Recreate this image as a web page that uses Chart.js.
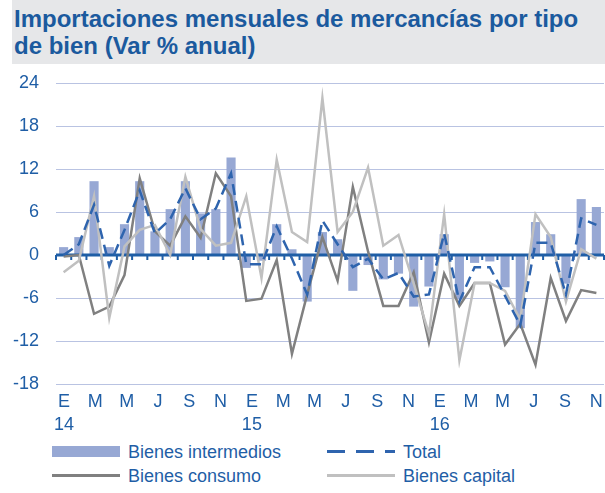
<!DOCTYPE html>
<html>
<head>
<meta charset="utf-8">
<script src="https://cdn.jsdelivr.net/npm/chart.js@4/dist/chart.umd.min.js"></script>
<style>
  body { margin: 0; width: 605px; height: 493px; background: #fff; font-family: 'Liberation Sans', Arial, sans-serif; position: relative; overflow: hidden; }
  #title { position: absolute; left: 12px; top: 0; width: 593px; height: 64px; background: #e6e7e9; color: #1b5a9e; font-weight: bold; font-size: 24px; line-height: 27px; padding: 5px 0 0 2px; box-sizing: border-box; }
  #chartWrap { position: absolute; left: 0; top: 63px; }
  .leg { position: absolute; font-size: 18px; color: #1f5ea6; line-height: 22px; }
  .sym { position: absolute; }
</style>
</head>
<body>
<div id="title">Importaciones mensuales de mercancías por tipo<br>de bien (Var % anual)</div>
<div id="chartWrap"><canvas id="myChart" width="605" height="375"></canvas></div>

<div class="sym" style="left:52px; top:446px; width:68px; height:11px; background:#97a8d4;"></div>
<div class="leg" style="left:128px; top:441px;">Bienes intermedios</div>
<div class="sym" style="left:327px; top:450px; width:68px; height:3px; background:repeating-linear-gradient(to right, #2e64ae 0 18px, transparent 18px 29px);"></div>
<div class="leg" style="left:403px; top:441px;">Total</div>
<div class="sym" style="left:52px; top:474px; width:68px; height:3px; background:#808080;"></div>
<div class="leg" style="left:128px; top:465px;">Bienes consumo</div>
<div class="sym" style="left:327px; top:474px; width:68px; height:3px; background:#c0c0c0;"></div>
<div class="leg" style="left:403px; top:465px;">Bienes capital</div>

<script>
// months (Spanish initials) and years shown under January
const months = ['E', 'F', 'M', 'A', 'M', 'J', 'J', 'A', 'S', 'O', 'N', 'D'];
const years = ['14', '15', '16'];

// Var % anual, Jan 2014 - Dec 2016
const intermedios = [1.1, 2.5, 10.3, 1.1, 4.3, 10.3, 3.3, 6.4, 10.3, 5.8, 6.4, 13.6,
                     -1.8, -0.8, 4.3, 0.8, -6.5, 3.2, 2.2, -5.0, -1.4, -3.4, -2.6, -7.2,
                     -4.4, 2.9, -6.2, -1.1, -0.9, -4.5, -10.2, 4.6, 2.9, -4.0, 7.8, 6.7];
const total = [0.0, 1.5, 7.0, -1.5, 3.5, 9.0, 3.0, 5.0, 9.3, 5.0, 6.5, 11.4,
               -1.3, -1.3, 4.0, -0.5, -5.5, 4.8, 1.5, -1.7, -0.5, -3.4, -2.5, -5.8,
               -5.5, 3.0, -6.5, -1.7, -1.7, -5.7, -9.8, 1.7, 1.7, -5.5, 5.1, 4.2];
const consumo = [-0.2, 0.0, -8.2, -7.2, -2.8, 10.7, 3.3, 1.3, 5.4, 2.4, 11.4, 8.2,
                 -6.4, -6.1, -0.7, -13.8, -5.5, 2.5, -3.6, 9.5, 0.5, -7.1, -7.1, -2.4,
                 -12.2, -2.6, -7.1, -3.9, -3.9, -12.5, -9.6, -15.3, -3.2, -9.2, -4.9, -5.3];
const capital = [-2.4, -0.8, 8.2, -8.8, 1.2, 3.5, 4.2, 0.0, 10.9, 3.6, 1.3, 1.7,
                 8.2, -3.2, 13.3, 3.2, 1.8, 21.9, 3.2, 6.0, 12.2, 1.3, 2.8, -4.0,
                 -11.0, 5.7, -14.7, -3.9, -3.9, -5.0, -9.0, 5.7, 2.5, -6.5, 0.8, -0.5];

const yMin = -18, yMax = 24, yStep = 6;

const labels = years.flatMap(y => months.map(m => m + y));

const blue = '#1f5ea6';
const font = { family: "'Liberation Sans', Arial, sans-serif", size: 18 };

// zero axis line with small tick marks, drawn right after the bars
const zeroAxis = {
    id: 'zeroAxis',
    afterDatasetDraw(chart, args) {
        if (args.index !== 0) return;
        const ctx = chart.ctx;
        const x = chart.scales.x, y = chart.scales.y;
        const y0 = y.getPixelForValue(0);
        const half = (x.getPixelForValue(1) - x.getPixelForValue(0)) / 2;
        ctx.save();
        ctx.strokeStyle = blue;
        ctx.lineWidth = 3;
        ctx.beginPath();
        ctx.moveTo(chart.chartArea.left, y0);
        ctx.lineTo(chart.chartArea.right, y0);
        ctx.stroke();
        ctx.lineWidth = 2;
        for (let i = 0; i <= labels.length; i++) {
            const px = x.getPixelForValue(i) - half;
            ctx.beginPath();
            ctx.moveTo(px, y0);
            ctx.lineTo(px, y0 + 5);
            ctx.stroke();
        }
        ctx.restore();
    }
};

const ctx = document.getElementById('myChart').getContext('2d');
new Chart(ctx, {
    type: 'bar',
    data: {
        labels: labels,
        datasets: [
            { type: 'bar', label: 'Bienes intermedios', data: intermedios, backgroundColor: '#97a8d4',
              barPercentage: 0.6, categoryPercentage: 1, order: 4 },
            { type: 'line', label: 'Bienes consumo', data: consumo, borderColor: '#808080', borderWidth: 2.5,
              pointRadius: 0, tension: 0, order: 3 },
            { type: 'line', label: 'Bienes capital', data: capital, borderColor: '#c0c0c0', borderWidth: 2.5,
              pointRadius: 0, tension: 0, order: 2 },
            { type: 'line', label: 'Total', data: total, borderColor: '#2e64ae', borderWidth: 2.5,
              borderDash: [11, 6], pointRadius: 0, tension: 0, order: 1 }
        ]
    },
    options: {
        responsive: false,
        animation: false,
        layout: { padding: { top: 20, right: 1, left: 0, bottom: 0 } },
        plugins: { legend: { display: false }, tooltip: { enabled: false } },
        scales: {
            x: { display: false, offset: true },
            // label axis: month letters every two months, year under January
            x2: {
                type: 'category', position: 'bottom', offset: false,
                grid: { display: false, drawTicks: false, tickLength: 0 },
                border: { display: false },
                afterFit(scale) { scale.height = 54; scale.paddingLeft = 0; scale.paddingRight = 0; },
                ticks: {
                    autoSkip: false, maxRotation: 0, padding: 7, labelOffset: 8, color: blue,
                    font: Object.assign({ lineHeight: 1.25 }, font),
                    callback(value, index) {
                        if (index % 2) return '';
                        const m = months[index % 12];
                        return index % 12 === 0 ? [m, years[index / 12]] : m;
                    }
                }
            },
            y: {
                min: yMin, max: yMax,
                afterFit(scale) { scale.width = 56; scale.paddingTop = 0; scale.paddingBottom = 0; },
                border: { display: false },
                grid: {
                    drawTicks: false,
                    color: c => c.tick.value === 0 ? 'rgba(0,0,0,0)' : '#b9c3e2',
                    lineWidth: 1
                },
                ticks: { stepSize: yStep, padding: 17, color: blue, font: font }
            }
        }
    },
    plugins: [zeroAxis]
});
</script>
</body>
</html>
